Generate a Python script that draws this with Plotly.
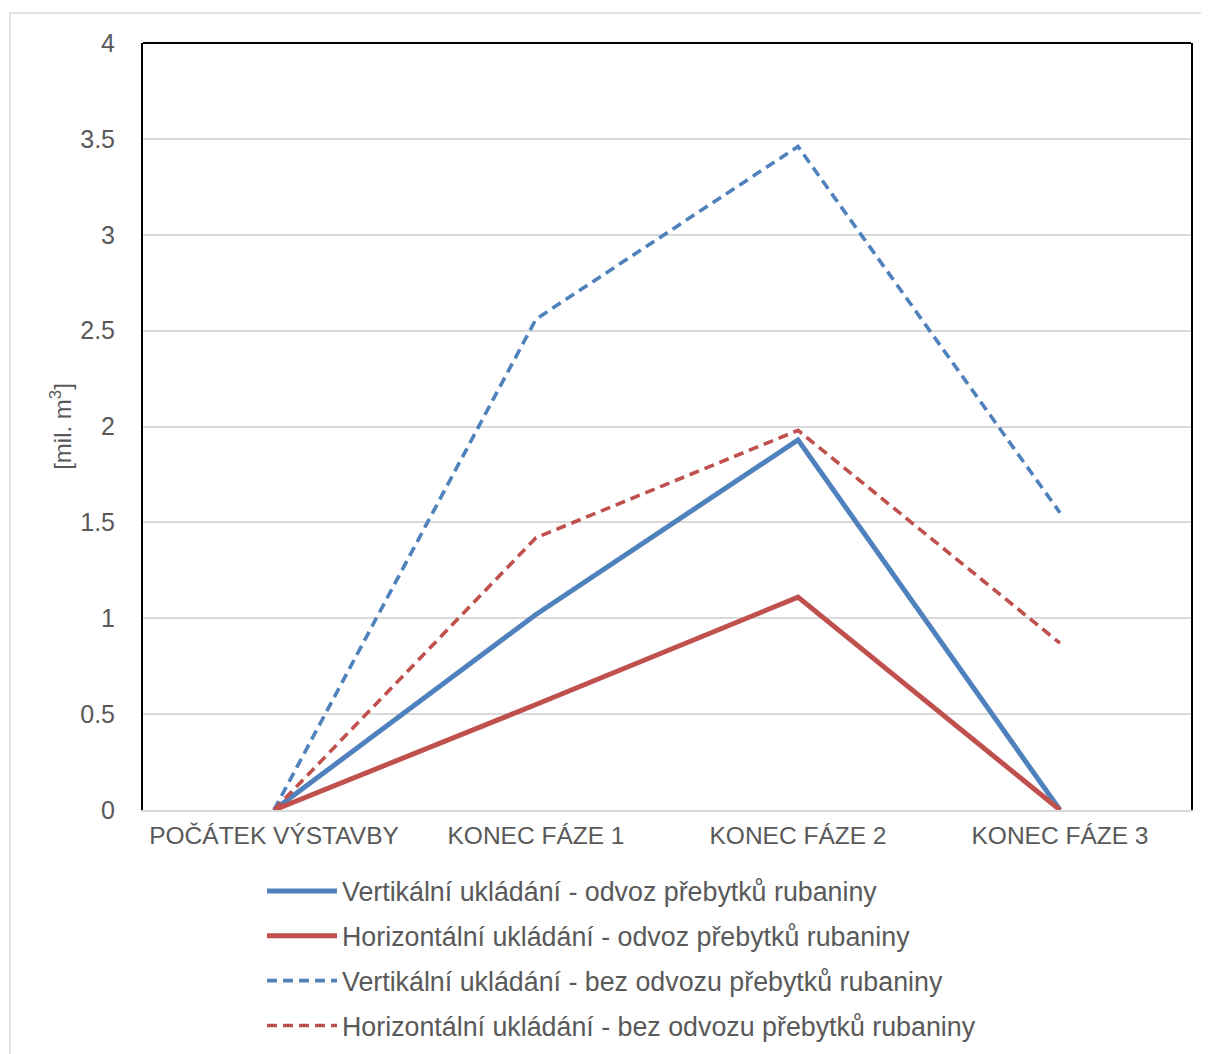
import plotly.graph_objects as go

categories = ["POČÁTEK VÝSTAVBY", "KONEC FÁZE 1", "KONEC FÁZE 2", "KONEC FÁZE 3"]
vert_odvoz = [0, 1.02, 1.93, 0]
horiz_odvoz = [0, 0.55, 1.11, 0]
vert_bez = [0, 2.56, 3.46, 1.55]
horiz_bez = [0, 1.42, 1.98, 0.87]
names = [
    "Vertikální ukládání - odvoz přebytků rubaniny",
    "Horizontální ukládání - odvoz přebytků rubaniny",
    "Vertikální ukládání - bez odvozu přebytků rubaniny",
    "Horizontální ukládání - bez odvozu přebytků rubaniny",
]
y_ticks = [0, 0.5, 1, 1.5, 2, 2.5, 3, 3.5, 4]

BLUE = "#4f81bd"
RED = "#c0504d"
GRAY_TXT = "#595959"
FONT = "Liberation Sans, Arial, sans-serif"

W, H = 1209, 1054
L, T, R, B = 135, 35, 26, 252
PW, PH = W - L - R, H - T - B

x_idx = list(range(len(categories)))
series = [
    (vert_odvoz, BLUE, "solid", 5),
    (horiz_odvoz, RED, "solid", 5),
    (vert_bez, BLUE, "10px,6px", 3.6),
    (horiz_bez, RED, "10px,6px", 3.6),
]

fig = go.Figure()
for i, (vals, col, dash, w) in enumerate(series):
    fig.add_trace(go.Scatter(
        x=x_idx, y=vals, mode="lines", name=names[i],
        legendgroup=f"g{i}",
        line=dict(color=col, width=w, dash=dash),
    ))

fig.update_layout(
    width=W, height=H,
    margin=dict(l=L, r=R, t=T, b=B, autoexpand=False),
    paper_bgcolor="white", plot_bgcolor="white",
    font=dict(family=FONT, color=GRAY_TXT, size=24),
    showlegend=True,
    legend=dict(
        x=(254 - L) / PW, xanchor="left",
        y=(H - B - 859) / PH, yanchor="top",
        font=dict(size=26.8, color=GRAY_TXT),
        tracegroupgap=7,
        itemwidth=70,
        bgcolor="rgba(0,0,0,0)",
    ),
    xaxis=dict(
        range=[-0.5, 3.5],
        tickmode="array", tickvals=x_idx, ticktext=categories,
        showgrid=False, zeroline=False,
        showline=True, linecolor="#d9d9d9", linewidth=2,
        ticks="", tickfont=dict(size=24.5, color=GRAY_TXT),
        ticklabelstandoff=3,
    ),
    yaxis=dict(
        range=[0, 4],
        tickmode="array", tickvals=y_ticks,
        ticktext=[f"{v:g}" for v in y_ticks],
        showgrid=True, gridcolor="#d9d9d9", gridwidth=1.5,
        zeroline=False,
        showline=True, linecolor="black", linewidth=2, mirror=True,
        ticks="", tickfont=dict(size=25, color=GRAY_TXT),
        ticklabelstandoff=21,
        title=dict(text="[mil. m<sup>3</sup>]", font=dict(size=24, color=GRAY_TXT), standoff=2),
    ),
    shapes=[
        dict(type="line", xref="paper", yref="paper", x0=0, x1=1, y0=1, y1=1,
             line=dict(color="black", width=2)),
        dict(type="rect", xref="paper", yref="paper",
             x0=(2 - L) / PW, x1=(1200 - L) / PW,
             y0=-0.5, y1=(H - B - 5) / PH,
             line=dict(color="#d9d9d9", width=1.5), layer="below"),
    ],
)

fig.write_html("out.html")
